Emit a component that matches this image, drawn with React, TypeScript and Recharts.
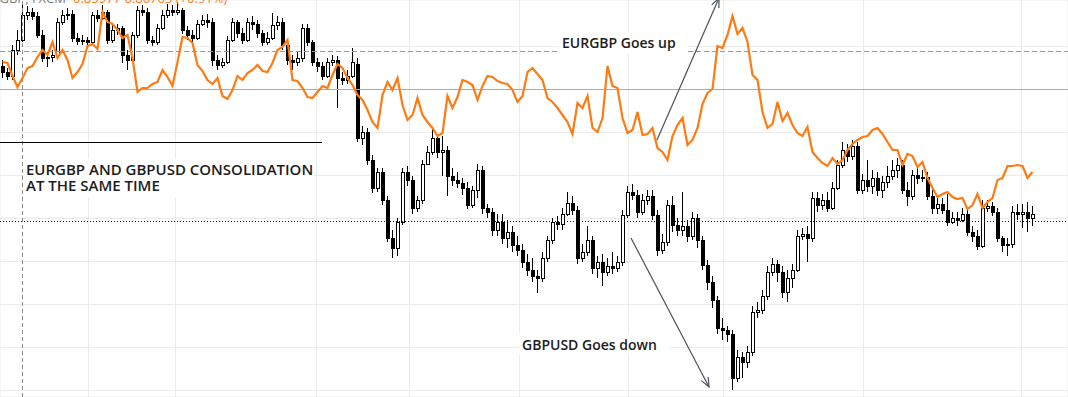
import { ComposedChart, Bar, Line, XAxis, YAxis, CartesianGrid, ReferenceLine } from 'recharts';

// GBPUSD candles (one per time slot)
const gbpOpen = [
  1.3234, 1.3228, 1.3224, 1.3250, 1.3260, 1.3285, 1.3288, 1.3284, 1.3265, 1.3242,
  1.3243, 1.3245, 1.3278, 1.3285, 1.3286, 1.3262, 1.3259, 1.3260, 1.3258, 1.3285,
  1.3282, 1.3288, 1.3260, 1.3270, 1.3272, 1.3245, 1.3240, 1.3265, 1.3290, 1.3288,
  1.3260, 1.3258, 1.3272, 1.3285, 1.3290, 1.3288, 1.3290, 1.3270, 1.3265, 1.3262,
  1.3276, 1.3280, 1.3278, 1.3240, 1.3235, 1.3238, 1.3260, 1.3278, 1.3267, 1.3260,
  1.3278, 1.3276, 1.3267, 1.3258, 1.3262, 1.3275, 1.3278, 1.3255, 1.3240, 1.3238,
  1.3242, 1.3272, 1.3258, 1.3238, 1.3234, 1.3224, 1.3238, 1.3240, 1.3222, 1.3220,
  1.3224, 1.3236, 1.3162, 1.3168, 1.3140, 1.3112, 1.3128, 1.3100, 1.3062, 1.3052,
  1.3078, 1.3128, 1.3120, 1.3092, 1.3100, 1.3136, 1.3148, 1.3162, 1.3148, 1.3150,
  1.3124, 1.3120, 1.3117, 1.3112, 1.3095, 1.3110, 1.3130, 1.3092, 1.3088, 1.3070,
  1.3078, 1.3062, 1.3068, 1.3055, 1.3050, 1.3038, 1.3030, 1.3024, 1.3022, 1.3042,
  1.3060, 1.3078, 1.3076, 1.3086, 1.3097, 1.3090, 1.3042, 1.3048, 1.3060, 1.3032,
  1.3038, 1.3028, 1.3034, 1.3032, 1.3038, 1.3085, 1.3108, 1.3105, 1.3088, 1.3100,
  1.3104, 1.3085, 1.3050, 1.3058, 1.3095, 1.3075, 1.3070, 1.3074, 1.3064, 1.3082,
  1.3060, 1.3035, 1.3018, 1.3000, 1.2972, 1.2970, 1.2966, 1.2922, 1.2943, 1.2938,
  1.2948, 1.2988, 1.2990, 1.3004, 1.3028, 1.3036, 1.3028, 1.3008, 1.3022, 1.3030,
  1.3064, 1.3066, 1.3062, 1.3102, 1.3095, 1.3100, 1.3092, 1.3112, 1.3135, 1.3150,
  1.3144, 1.3154, 1.3110, 1.3120, 1.3114, 1.3122, 1.3110, 1.3118, 1.3124, 1.3130,
  1.3135, 1.3110, 1.3104, 1.3125, 1.3122, 1.3123, 1.3104, 1.3092, 1.3096, 1.3090,
  1.3078, 1.3082, 1.3080, 1.3086, 1.3068, 1.3064, 1.3054, 1.3092, 1.3094, 1.3088,
  1.3062, 1.3055, 1.3056, 1.3088, 1.3086, 1.3088, 1.3082,
];

const gbpClose = [
  1.3228, 1.3224, 1.3250, 1.3260, 1.3285, 1.3288, 1.3284, 1.3265, 1.3242, 1.3243,
  1.3245, 1.3278, 1.3285, 1.3286, 1.3262, 1.3259, 1.3260, 1.3258, 1.3285, 1.3282,
  1.3288, 1.3260, 1.3270, 1.3272, 1.3245, 1.3240, 1.3265, 1.3290, 1.3288, 1.3260,
  1.3258, 1.3272, 1.3285, 1.3290, 1.3288, 1.3290, 1.3270, 1.3265, 1.3262, 1.3276,
  1.3280, 1.3278, 1.3240, 1.3235, 1.3238, 1.3260, 1.3278, 1.3267, 1.3260, 1.3278,
  1.3276, 1.3267, 1.3258, 1.3262, 1.3275, 1.3278, 1.3255, 1.3240, 1.3238, 1.3242,
  1.3272, 1.3258, 1.3238, 1.3234, 1.3224, 1.3238, 1.3240, 1.3222, 1.3220, 1.3224,
  1.3238, 1.3162, 1.3168, 1.3140, 1.3112, 1.3128, 1.3100, 1.3062, 1.3052, 1.3078,
  1.3128, 1.3120, 1.3092, 1.3100, 1.3136, 1.3148, 1.3162, 1.3148, 1.3150, 1.3124,
  1.3120, 1.3117, 1.3112, 1.3095, 1.3110, 1.3130, 1.3092, 1.3088, 1.3070, 1.3078,
  1.3062, 1.3068, 1.3055, 1.3050, 1.3038, 1.3030, 1.3024, 1.3022, 1.3042, 1.3060,
  1.3078, 1.3076, 1.3086, 1.3097, 1.3090, 1.3042, 1.3048, 1.3060, 1.3032, 1.3038,
  1.3028, 1.3034, 1.3032, 1.3038, 1.3085, 1.3108, 1.3105, 1.3088, 1.3100, 1.3104,
  1.3085, 1.3050, 1.3058, 1.3095, 1.3075, 1.3070, 1.3074, 1.3064, 1.3082, 1.3060,
  1.3035, 1.3018, 1.3000, 1.2972, 1.2970, 1.2966, 1.2922, 1.2943, 1.2938, 1.2948,
  1.2988, 1.2990, 1.3004, 1.3028, 1.3036, 1.3028, 1.3008, 1.3022, 1.3030, 1.3064,
  1.3066, 1.3062, 1.3102, 1.3095, 1.3100, 1.3092, 1.3112, 1.3135, 1.3150, 1.3144,
  1.3154, 1.3110, 1.3120, 1.3114, 1.3122, 1.3110, 1.3118, 1.3124, 1.3130, 1.3135,
  1.3110, 1.3104, 1.3125, 1.3122, 1.3123, 1.3104, 1.3092, 1.3096, 1.3090, 1.3078,
  1.3082, 1.3080, 1.3086, 1.3068, 1.3064, 1.3054, 1.3092, 1.3094, 1.3088, 1.3062,
  1.3055, 1.3056, 1.3088, 1.3086, 1.3088, 1.3082, 1.3086,
];

const gbpHigh = [
  1.3240, 1.3232, 1.3255, 1.3270, 1.3295, 1.3294, 1.3292, 1.3288, 1.3270, 1.3248,
  1.3250, 1.3282, 1.3290, 1.3292, 1.3290, 1.3267, 1.3265, 1.3263, 1.3288, 1.3290,
  1.3295, 1.3290, 1.3276, 1.3276, 1.3274, 1.3250, 1.3268, 1.3294, 1.3295, 1.3292,
  1.3264, 1.3276, 1.3290, 1.3296, 1.3295, 1.3298, 1.3292, 1.3274, 1.3270, 1.3280,
  1.3285, 1.3286, 1.3282, 1.3245, 1.3242, 1.3264, 1.3282, 1.3280, 1.3272, 1.3282,
  1.3284, 1.3280, 1.3270, 1.3268, 1.3287, 1.3284, 1.3282, 1.3260, 1.3245, 1.3248,
  1.3276, 1.3276, 1.3260, 1.3242, 1.3238, 1.3242, 1.3245, 1.3244, 1.3228, 1.3230,
  1.3252, 1.3242, 1.3174, 1.3172, 1.3145, 1.3132, 1.3132, 1.3104, 1.3070, 1.3082,
  1.3132, 1.3134, 1.3124, 1.3104, 1.3140, 1.3154, 1.3172, 1.3166, 1.3164, 1.3154,
  1.3132, 1.3128, 1.3122, 1.3118, 1.3114, 1.3136, 1.3134, 1.3096, 1.3092, 1.3086,
  1.3086, 1.3080, 1.3074, 1.3064, 1.3056, 1.3046, 1.3042, 1.3030, 1.3048, 1.3064,
  1.3082, 1.3084, 1.3092, 1.3108, 1.3104, 1.3094, 1.3056, 1.3074, 1.3064, 1.3044,
  1.3046, 1.3042, 1.3048, 1.3044, 1.3090, 1.3114, 1.3116, 1.3110, 1.3106, 1.3110,
  1.3110, 1.3090, 1.3066, 1.3100, 1.3104, 1.3082, 1.3108, 1.3080, 1.3088, 1.3086,
  1.3064, 1.3040, 1.3024, 1.3004, 1.2982, 1.2974, 1.2970, 1.2950, 1.2948, 1.2954,
  1.2994, 1.2998, 1.3010, 1.3034, 1.3042, 1.3040, 1.3034, 1.3030, 1.3036, 1.3070,
  1.3072, 1.3074, 1.3108, 1.3108, 1.3106, 1.3108, 1.3118, 1.3140, 1.3158, 1.3156,
  1.3160, 1.3158, 1.3126, 1.3140, 1.3130, 1.3128, 1.3124, 1.3134, 1.3140, 1.3142,
  1.3140, 1.3118, 1.3130, 1.3132, 1.3130, 1.3128, 1.3110, 1.3104, 1.3102, 1.3106,
  1.3088, 1.3088, 1.3092, 1.3090, 1.3074, 1.3070, 1.3100, 1.3100, 1.3098, 1.3092,
  1.3064, 1.3062, 1.3094, 1.3096, 1.3096, 1.3098, 1.3094,
];

const gbpLow = [
  1.3222, 1.3220, 1.3220, 1.3245, 1.3258, 1.3280, 1.3280, 1.3262, 1.3238, 1.3233,
  1.3238, 1.3242, 1.3275, 1.3280, 1.3258, 1.3255, 1.3255, 1.3254, 1.3255, 1.3278,
  1.3280, 1.3256, 1.3257, 1.3265, 1.3237, 1.3230, 1.3238, 1.3262, 1.3284, 1.3256,
  1.3254, 1.3255, 1.3270, 1.3282, 1.3284, 1.3285, 1.3266, 1.3260, 1.3258, 1.3260,
  1.3274, 1.3272, 1.3234, 1.3230, 1.3232, 1.3236, 1.3258, 1.3262, 1.3256, 1.3258,
  1.3270, 1.3262, 1.3254, 1.3255, 1.3260, 1.3270, 1.3250, 1.3235, 1.3230, 1.3234,
  1.3238, 1.3254, 1.3234, 1.3228, 1.3220, 1.3222, 1.3234, 1.3192, 1.3215, 1.3216,
  1.3222, 1.3158, 1.3155, 1.3135, 1.3107, 1.3108, 1.3095, 1.3058, 1.3042, 1.3044,
  1.3075, 1.3114, 1.3086, 1.3088, 1.3096, 1.3142, 1.3145, 1.3142, 1.3124, 1.3104,
  1.3114, 1.3112, 1.3105, 1.3091, 1.3092, 1.3102, 1.3086, 1.3082, 1.3064, 1.3064,
  1.3056, 1.3052, 1.3048, 1.3044, 1.3032, 1.3024, 1.3018, 1.3007, 1.3018, 1.3038,
  1.3056, 1.3070, 1.3070, 1.3084, 1.3085, 1.3036, 1.3038, 1.3044, 1.3026, 1.3022,
  1.3014, 1.3024, 1.3026, 1.3028, 1.3034, 1.3082, 1.3100, 1.3082, 1.3085, 1.3095,
  1.3080, 1.3044, 1.3046, 1.3054, 1.3068, 1.3064, 1.3064, 1.3058, 1.3060, 1.3052,
  1.3030, 1.3010, 1.2992, 1.2966, 1.2960, 1.2958, 1.2910, 1.2918, 1.2922, 1.2932,
  1.2944, 1.2982, 1.2986, 1.3000, 1.3024, 1.3018, 1.3002, 1.2998, 1.3012, 1.3028,
  1.3060, 1.3038, 1.3058, 1.3088, 1.3090, 1.3088, 1.3090, 1.3110, 1.3132, 1.3138,
  1.3140, 1.3106, 1.3106, 1.3108, 1.3106, 1.3104, 1.3102, 1.3112, 1.3120, 1.3122,
  1.3106, 1.3094, 1.3100, 1.3116, 1.3118, 1.3100, 1.3086, 1.3086, 1.3086, 1.3074,
  1.3076, 1.3074, 1.3078, 1.3064, 1.3058, 1.3050, 1.3052, 1.3088, 1.3084, 1.3058,
  1.3048, 1.3044, 1.3052, 1.3080, 1.3072, 1.3068, 1.3074,
];

// EURGBP close, same time slots
const eurClose = [
  0.8738, 0.8737, 0.8724, 0.8713, 0.8722, 0.8732, 0.8734, 0.8743, 0.8750, 0.8745,
  0.8758, 0.8742, 0.8750, 0.8740, 0.8722, 0.8728, 0.8736, 0.8754, 0.8756, 0.8751,
  0.8788, 0.8778, 0.8776, 0.8770, 0.8762, 0.8765, 0.8742, 0.8708, 0.8712, 0.8712,
  0.8716, 0.8718, 0.8730, 0.8723, 0.8714, 0.8738, 0.8763, 0.8762, 0.8757, 0.8735,
  0.8729, 0.8720, 0.8716, 0.8722, 0.8704, 0.8701, 0.8710, 0.8724, 0.8720, 0.8727,
  0.8730, 0.8735, 0.8729, 0.8728, 0.8737, 0.8750, 0.8753, 0.8760, 0.8720, 0.8719,
  0.8712, 0.8703, 0.8702, 0.8708, 0.8714, 0.8712, 0.8725, 0.8736, 0.8732, 0.8722,
  0.8715, 0.8705, 0.8700, 0.8690, 0.8678, 0.8672, 0.8705, 0.8718, 0.8710, 0.8722,
  0.8695, 0.8680, 0.8685, 0.8702, 0.8685, 0.8678, 0.8672, 0.8664, 0.8667, 0.8704,
  0.8692, 0.8703, 0.8720, 0.8718, 0.8715, 0.8700, 0.8714, 0.8724, 0.8723, 0.8719,
  0.8717, 0.8716, 0.8710, 0.8698, 0.8704, 0.8728, 0.8732, 0.8726, 0.8720, 0.8702,
  0.8698, 0.8692, 0.8685, 0.8678, 0.8666, 0.8697, 0.8692, 0.8704, 0.8672, 0.8668,
  0.8682, 0.8734, 0.8714, 0.8712, 0.8682, 0.8667, 0.8670, 0.8688, 0.8665, 0.8666,
  0.8672, 0.8652, 0.8648, 0.8640, 0.8664, 0.8675, 0.8682, 0.8655, 0.8660, 0.8672,
  0.8696, 0.8707, 0.8711, 0.8754, 0.8752, 0.8765, 0.8784, 0.8766, 0.8772, 0.8758,
  0.8725, 0.8720, 0.8688, 0.8672, 0.8676, 0.8698, 0.8679, 0.8687, 0.8675, 0.8667,
  0.8664, 0.8673, 0.8648, 0.8642, 0.8637, 0.8634, 0.8642, 0.8636, 0.8640, 0.8650,
  0.8656, 0.8660, 0.8663, 0.8664, 0.8670, 0.8672, 0.8666, 0.8658, 0.8650, 0.8650,
  0.8635, 0.8646, 0.8644, 0.8633, 0.8638, 0.8622, 0.8612, 0.8603, 0.8606, 0.8608,
  0.8603, 0.8601, 0.8602, 0.8591, 0.8595, 0.8606, 0.8592, 0.8598, 0.8602, 0.8620,
  0.8622, 0.8634, 0.8634, 0.8635, 0.8634, 0.8622, 0.8628,
];

// session boundaries (slot index) and price grid
const gridSlots = [17.2, 34.6, 62.8, 81.4, 103.4, 125.2, 144.2, 172.2, 203.8];
const gridPrices = [1.32965, 1.32535, 1.32105, 1.31675, 1.31245, 1.30815, 1.30385, 1.29955, 1.29525, 1.29095];

const data = gbpClose.map((close, i) => ({
  slot: i,
  open: gbpOpen[i],
  close,
  high: gbpHigh[i],
  low: gbpLow[i],
  range: [gbpLow[i], gbpHigh[i]],
  eur: eurClose[i],
}));

const FONT = "'Open Sans', 'DejaVu Sans', sans-serif";

function Candle(props: any) {
  const { x, y, width, height, payload } = props;
  if (x == null || y == null) return null;
  const { open, close, high, low } = payload;
  const top = Math.min(y, y + height);
  const h = Math.abs(height);
  const span = high - low || 1e-9;
  const toY = (p: number) => top + ((high - p) / span) * h;
  const cx = Math.round(x + width / 2 - 0.5) + 0.5;
  const bTop = Math.round(toY(Math.max(open, close)));
  const bBot = Math.round(toY(Math.min(open, close)));
  const bearish = close < open;
  return (
    <g>
      <line x1={cx} x2={cx} y1={top} y2={top + h} stroke="#000" strokeWidth={1} />
      {bBot - bTop >= 1 ? (
        <rect
          x={cx - 1}
          y={bTop + 0.5}
          width={3}
          height={bBot - bTop}
          fill={bearish ? '#000' : '#fff'}
          stroke="#000"
          strokeWidth={1}
        />
      ) : (
        <line x1={cx - 1.5} x2={cx + 2.5} y1={bTop + 0.5} y2={bTop + 0.5} stroke="#000" />
      )}
    </g>
  );
}

function Arrow(props: any) {
  const { x1, y1, x2, y2 } = props;
  const a = Math.atan2(y2 - y1, x2 - x1);
  const len = 10;
  const spread = 0.4;
  const l = [x2 - len * Math.cos(a - spread), y2 - len * Math.sin(a - spread)];
  const r = [x2 - len * Math.cos(a + spread), y2 - len * Math.sin(a + spread)];
  return (
    <g stroke="#4b505c" strokeWidth={1.2} fill="none">
      <line x1={x1} y1={y1} x2={x2} y2={y2} />
      <polyline points={`${l[0]},${l[1]} ${x2},${y2} ${r[0]},${r[1]}`} />
    </g>
  );
}

export default function App() {
  return (
    <div style={{ position: 'fixed', left: 0, top: 0, width: 1068, height: 397, background: '#fff' }}>
      <ComposedChart width={1068} height={397} data={data} margin={{ top: 0, right: 0, bottom: 0, left: 0 }}>
        <XAxis dataKey="slot" type="number" domain={[-0.5, 213.1]} ticks={gridSlots} allowDataOverflow hide />
        <YAxis yAxisId="gbp" type="number" domain={[1.2903, 1.33]} ticks={gridPrices} allowDataOverflow hide />
        <YAxis yAxisId="eur" type="number" domain={[0.8403, 0.88]} allowDataOverflow hide />
        <CartesianGrid yAxisId="gbp" stroke="#ebebeb" />

        <ReferenceLine yAxisId="eur" y={0.87485} stroke="#9a9a9a" strokeDasharray="5 3" />
        <ReferenceLine yAxisId="eur" y={0.87105} stroke="#ababab" />
        <ReferenceLine yAxisId="gbp" y={1.30785} stroke="#111" strokeDasharray="1 2" />
        <ReferenceLine yAxisId="gbp" x={4} stroke="#8c8c8c" strokeDasharray="4 3" />
        <ReferenceLine
          yAxisId="gbp"
          segment={[{ x: -0.5, y: 1.31575 }, { x: 63.9, y: 1.31575 }]}
          stroke="#000"
          strokeWidth={1.2}
        />

        <Bar yAxisId="gbp" dataKey="range" barSize={3} shape={<Candle />} isAnimationActive={false} />
        <Line
          yAxisId="eur"
          dataKey="eur"
          type="linear"
          stroke="#ff7b12"
          strokeWidth={2.2}
          dot={false}
          activeDot={false}
          isAnimationActive={false}
        />

        <ReferenceLine
          yAxisId="gbp"
          segment={[{ x: 130.9, y: 1.316 }, { x: 143.3, y: 1.3302 }]}
          ifOverflow="visible"
          shape={(p: any) => <Arrow {...p} />}
        />
        <ReferenceLine
          yAxisId="gbp"
          segment={[{ x: 125.7, y: 1.3062 }, { x: 141.3, y: 1.2913 }]}
          ifOverflow="visible"
          shape={(p: any) => <Arrow {...p} />}
        />
      </ComposedChart>

      <svg width={1068} height={397} style={{ position: 'absolute', left: 0, top: 0, pointerEvents: 'none' }}>
        <g fontFamily={FONT} fontSize={13}>
          <text x={66} y={3} textAnchor="end" fill="#808080">EURGBP, FXCM</text>
          <text x={73} y={3} fill="#ff7b12">0.85977   0.86763  (+0.91%)</text>
        </g>
        <g fontFamily={FONT} fontWeight={600} fill="#1c1c1c">
          <rect x={559} y={32} width={129} height={21} fill="#fff" />
          <text x={562} y={48} fontSize={14}>EURGBP Goes up</text>
          <rect x={518} y={333} width={152} height={22} fill="#fff" />
          <text x={522} y={350} fontSize={14}>GBPUSD Goes down</text>
          <rect x={24} y={158} width={289} height={39} fill="#fff" />
          <text x={26} y={175} fontSize={15}>EURGBP AND GBPUSD CONSOLIDATION</text>
          <text x={26} y={191} fontSize={15}>AT THE SAME TIME</text>
        </g>
      </svg>
    </div>
  );
}
